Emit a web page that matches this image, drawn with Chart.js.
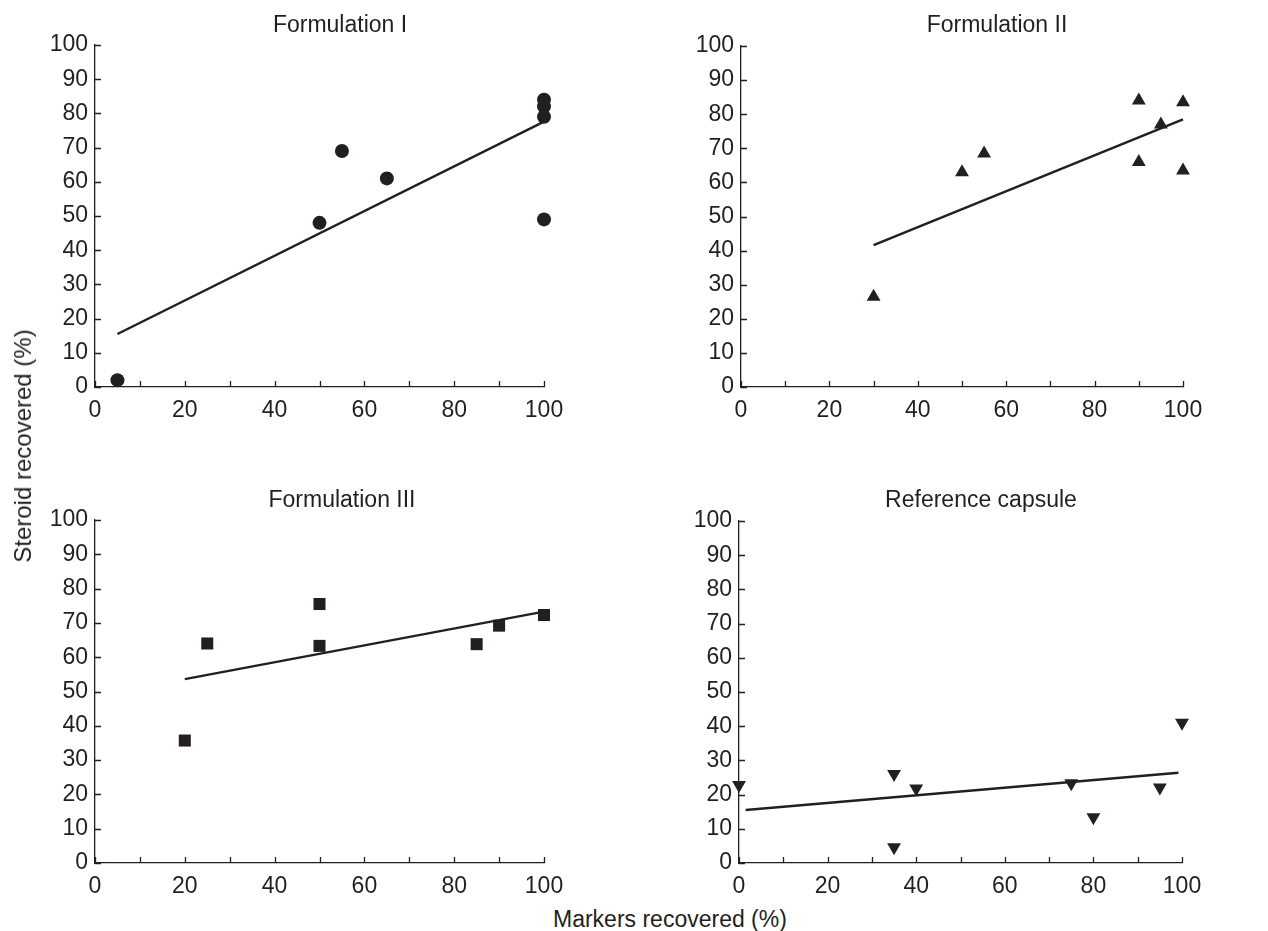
<!DOCTYPE html>
<html>
<head>
<meta charset="utf-8">
<script src="https://cdn.jsdelivr.net/npm/chart.js@4.4.1/dist/chart.umd.min.js"></script>
<style>
  html, body { margin: 0; padding: 0; background: #ffffff; width: 1268px; height: 931px; overflow: hidden; }
  canvas { position: absolute; }
  .axt { position: absolute; font-family: "Liberation Sans", Arial, sans-serif; font-size: 24px; color: #231f20; white-space: nowrap; line-height: 1; }
</style>
</head>
<body>
<canvas id="c1" width="680" height="432" style="left:0px;top:0px"></canvas>
<canvas id="c2" width="614" height="432" style="left:690px;top:0px"></canvas>
<canvas id="c3" width="684" height="433" style="left:0px;top:470px"></canvas>
<canvas id="c4" width="582" height="433" style="left:690px;top:470px"></canvas>
<div class="axt" id="ylab" style="left:23px;top:446px;transform:translate(-50%,-50%) rotate(-90deg);">Steroid recovered (%)</div>
<div class="axt" id="xlab" style="left:553px;top:919px;font-size:23px;transform:translate(0,-50%);">Markers recovered (%)</div>
<script>
// ---- data ----
const panelTitles = ["Formulation I", "Formulation II", "Formulation III", "Reference capsule"];

const f1X = [5, 50, 55, 65, 100, 100, 100, 100];
const f1Y = [2, 48, 69, 61, 84, 82, 79, 49];
const f1FitX = [5, 100];
const f1FitY = [15.5, 77.6];

const f2X = [30, 50, 55, 90, 90, 95, 100, 100];
const f2Y = [26.5, 63, 68.5, 84, 66, 77, 83.5, 63.5];
const f2FitX = [30, 100];
const f2FitY = [41.6, 78.5];

const f3X = [20, 25, 50, 50, 85, 90, 100];
const f3Y = [35.7, 64, 75.5, 63.3, 63.8, 69.2, 72.3];
const f3FitX = [20, 100];
const f3FitY = [53.6, 73.3];

const refX = [0, 35, 35, 40, 75, 80, 95, 100];
const refY = [22.8, 26, 4.6, 21.8, 23.3, 13.4, 22.1, 41];
const refFitX = [1.5, 99.2];
const refFitY = [15.5, 26.4];

const xTickMarks = [0, 10, 20, 30, 40, 50, 60, 70, 80, 90, 100];
const yTickMarks = [0, 10, 20, 30, 40, 50, 60, 70, 80, 90, 100];

// ---- styling / layout ----
const INK = '#231f20';
const FONT = "'Liberation Sans', Arial, sans-serif";
Chart.defaults.font.family = FONT;
Chart.defaults.color = INK;

function pts(xs, ys) { return xs.map((x, i) => ({ x: x, y: ys[i] })); }

const inwardTicks = {
  id: 'inwardTicks',
  afterDatasetsDraw(chart) {
    const ctx = chart.ctx, xs = chart.scales.x, ys = chart.scales.y, ca = chart.chartArea;
    ctx.save();
    ctx.strokeStyle = INK;
    ctx.lineWidth = 1.3;
    ctx.beginPath();
    xTickMarks.forEach(v => {
      const p = Math.round(xs.getPixelForValue(v)) + 0.5;
      ctx.moveTo(p, ca.bottom);
      ctx.lineTo(p, ca.bottom - 6);
    });
    yTickMarks.forEach(v => {
      const p = Math.round(ys.getPixelForValue(v)) + 0.5;
      ctx.moveTo(ca.left, p);
      ctx.lineTo(ca.left + 6, p);
    });
    ctx.stroke();
    ctx.restore();
  }
};

function makePanel(id, title, xs, ys, fx, fy, marker, cfg) {
  const ctxEl = document.getElementById(id);
  new Chart(ctxEl, {
    type: 'scatter',
    data: {
      datasets: [
        {
          type: 'scatter',
          data: pts(xs, ys),
          pointStyle: marker.style,
          pointRotation: marker.rotation || 0,
          pointRadius: marker.radius,
          pointHoverRadius: marker.radius,
          backgroundColor: INK,
          borderColor: INK,
          pointBorderWidth: 0,
          clip: false,
          order: 0
        },
        {
          type: 'line',
          data: pts(fx, fy),
          borderColor: INK,
          borderWidth: 2.4,
          pointRadius: 0,
          fill: false,
          tension: 0,
          clip: false,
          order: 1
        }
      ]
    },
    options: {
      responsive: false,
      animation: false,
      devicePixelRatio: 1,
      layout: { padding: 0 },
      plugins: {
        legend: { display: false },
        tooltip: { enabled: false },
        title: {
          display: true,
          text: title,
          color: INK,
          font: { family: FONT, size: 23, weight: 'normal', lineHeight: 1.2 },
          padding: { top: cfg.titleTop, bottom: cfg.titleBottom }
        }
      },
      scales: {
        x: {
          type: 'linear',
          min: 0, max: 100,
          grid: { display: false, drawTicks: false },
          border: { display: true, color: INK, width: 1.3 },
          ticks: { stepSize: 20, padding: 10, color: INK, font: { family: FONT, size: 23 }, maxRotation: 0 },
          afterFit(s) { s.height = cfg.xh; s.paddingLeft = 0; s.paddingRight = cfg.padR; }
        },
        y: {
          type: 'linear',
          min: 0, max: 100,
          grid: { display: false, drawTicks: false },
          border: { display: true, color: INK, width: 1.3 },
          ticks: { stepSize: 10, padding: 7, color: INK, font: { family: FONT, size: 23 } },
          afterFit(s) { s.width = cfg.yw; s.paddingTop = 0; s.paddingBottom = 0; }
        }
      }
    },
    plugins: [inwardTicks]
  });
}

makePanel('c1', panelTitles[0], f1X, f1Y, f1FitX, f1FitY, { style: 'circle', radius: 7 },
  { yw: 95, padR: 136, xh: 45, titleTop: 12, titleBottom: 5.4 });
makePanel('c2', panelTitles[1], f2X, f2Y, f2FitX, f2FitY, { style: 'triangle', radius: 8 },
  { yw: 51, padR: 121, xh: 45, titleTop: 12, titleBottom: 6.4 });
makePanel('c3', panelTitles[2], f3X, f3Y, f3FitX, f3FitY, { style: 'rect', radius: 8.5 },
  { yw: 95, padR: 140, xh: 40, titleTop: 17.2, titleBottom: 5.2 });
makePanel('c4', panelTitles[3], refX, refY, refFitX, refFitY, { style: 'triangle', radius: 8, rotation: 180 },
  { yw: 49, padR: 90, xh: 40, titleTop: 17.2, titleBottom: 6.2 });
</script>
</body>
</html>
